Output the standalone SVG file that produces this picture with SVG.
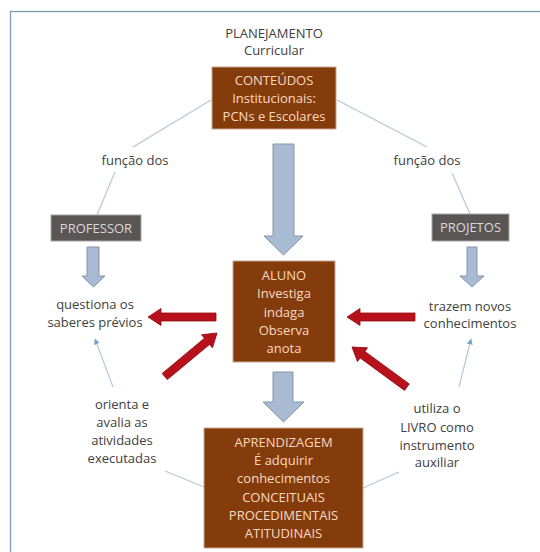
<svg xmlns="http://www.w3.org/2000/svg" xmlns:xlink="http://www.w3.org/1999/xlink" width="540" height="552" viewBox="0 0 540 552">
<style>
.t{font-family:"Open Sans","Liberation Sans",sans-serif;font-size:13px;fill:#404040;text-anchor:middle}
.bt{font-family:"Open Sans","Liberation Sans",sans-serif;font-size:13px;fill:#fbd9c0;text-anchor:middle}
.gt{font-family:"Open Sans","Liberation Sans",sans-serif;font-size:13px;fill:#d9d9d9;text-anchor:middle}
.brown{fill:#843c0c;stroke:#c9a68e;stroke-width:1}
.gray{fill:#5b5656;stroke:#a5a5a5;stroke-width:1}
.blue{fill:#a9bbd2;stroke:#8494ab;stroke-width:1}
.thin{stroke:#b3c8d8;stroke-width:1.2;fill:none}
.red{fill:#b8111c;stroke:#8e0c14;stroke-width:0.8}
</style>
<defs>
<path id="redArrow" d="M-68,-4 L-13,-4 L-13,-8.5 L0,0 L-13,8.5 L-13,4 L-68,4 Z"/>
<marker id="sm" viewBox="0 0 10 10" refX="9" refY="5" markerWidth="5" markerHeight="5" orient="auto">
<path d="M0,0 L10,5 L0,10 Z" fill="#7aa3cc"/>
</marker>
</defs>
<rect x="10.5" y="11.5" width="560" height="560" fill="#ffffff" stroke="#7f9bb3" stroke-width="1.3"/>

<g id="connectors">
<line class="thin" x1="211" y1="100" x2="133" y2="147"/>
<line class="thin" x1="115" y1="172" x2="97" y2="215"/>
<line class="thin" x1="337" y1="100" x2="427" y2="147"/>
<line class="thin" x1="452" y1="173" x2="470" y2="214"/>
<line class="thin" x1="113" y1="387" x2="95" y2="339" marker-end="url(#sm)"/>
<line class="thin" x1="459" y1="387" x2="471" y2="339" marker-end="url(#sm)"/>
<line class="thin" x1="165" y1="471" x2="204" y2="487"/>
<line class="thin" x1="363" y1="488" x2="399" y2="472"/>
<path class="blue" d="M273,144 H294 V236 H303 L283.5,255 L264,236 H273 Z"/>
<path class="blue" d="M87,247 H99 V276 H105 L93.5,287 L82,276 H87 Z"/>
<path class="blue" d="M467,247 H477 V276 H484 L472,287 L460,276 H467 Z"/>
<path class="blue" d="M273,372 H293 V402 H304 L283.5,422 L263,402 H273 Z"/>
<use href="#redArrow" class="red" transform="translate(148,317) rotate(180)"/>
<use href="#redArrow" class="red" transform="translate(347,317) rotate(180)"/>
<use href="#redArrow" class="red" transform="translate(217,333) rotate(-39.8)"/>
<use href="#redArrow" class="red" transform="translate(352,347) rotate(216.2)"/>
</g>

<g id="title">
<text class="t" x="274" y="38">PLANEJAMENTO</text>
<text class="t" x="274" y="55">Curricular</text>
</g>

<g id="conteudos">
<rect class="brown" x="212" y="67" width="124" height="62"/>
<text class="bt" x="274" y="85">CONTEÚDOS</text>
<text class="bt" x="274" y="103">Institucionais:</text>
<text class="bt" x="274" y="121">PCNs e Escolares</text>
</g>

<g id="funcao-left"><text class="t" x="135" y="165">função dos</text></g>
<g id="funcao-right"><text class="t" x="427" y="165">função dos</text></g>

<g id="professor">
<rect class="gray" x="51" y="215" width="90" height="26"/>
<text class="gt" x="96" y="233">PROFESSOR</text>
</g>

<g id="projetos">
<rect class="gray" x="432" y="214" width="77" height="27"/>
<text class="gt" x="470.5" y="232">PROJETOS</text>
</g>

<g id="questiona">
<text class="t" x="95" y="309">questiona os</text>
<text class="t" x="95" y="327">saberes prévios</text>
</g>

<g id="trazem">
<text class="t" x="470" y="311">trazem novos</text>
<text class="t" x="470" y="328">conhecimentos</text>
</g>

<g id="aluno">
<rect class="brown" x="233" y="261" width="102" height="101"/>
<text class="bt" x="284" y="280">ALUNO</text>
<text class="bt" x="284" y="298">Investiga</text>
<text class="bt" x="284" y="317">indaga</text>
<text class="bt" x="284" y="335">Observa</text>
<text class="bt" x="284" y="353">anota</text>
</g>

<g id="orienta">
<text class="t" x="122" y="409">orienta e</text>
<text class="t" x="122" y="427">avalia as</text>
<text class="t" x="122" y="445">atividades</text>
<text class="t" x="122" y="463">executadas</text>
</g>

<g id="utiliza">
<text class="t" x="437" y="413">utiliza o</text>
<text class="t" x="437" y="432">LIVRO como</text>
<text class="t" x="437" y="450">instrumento</text>
<text class="t" x="437" y="467">auxiliar</text>
</g>

<g id="aprendizagem">
<rect class="brown" x="204" y="428" width="159" height="120"/>
<text class="bt" x="283.5" y="447">APRENDIZAGEM</text>
<text class="bt" x="283.5" y="465">É adquirir</text>
<text class="bt" x="283.5" y="483">conhecimentos</text>
<text class="bt" x="283.5" y="502">CONCEITUAIS</text>
<text class="bt" x="283.5" y="520">PROCEDIMENTAIS</text>
<text class="bt" x="283.5" y="538">ATITUDINAIS</text>
</g>
</svg>
